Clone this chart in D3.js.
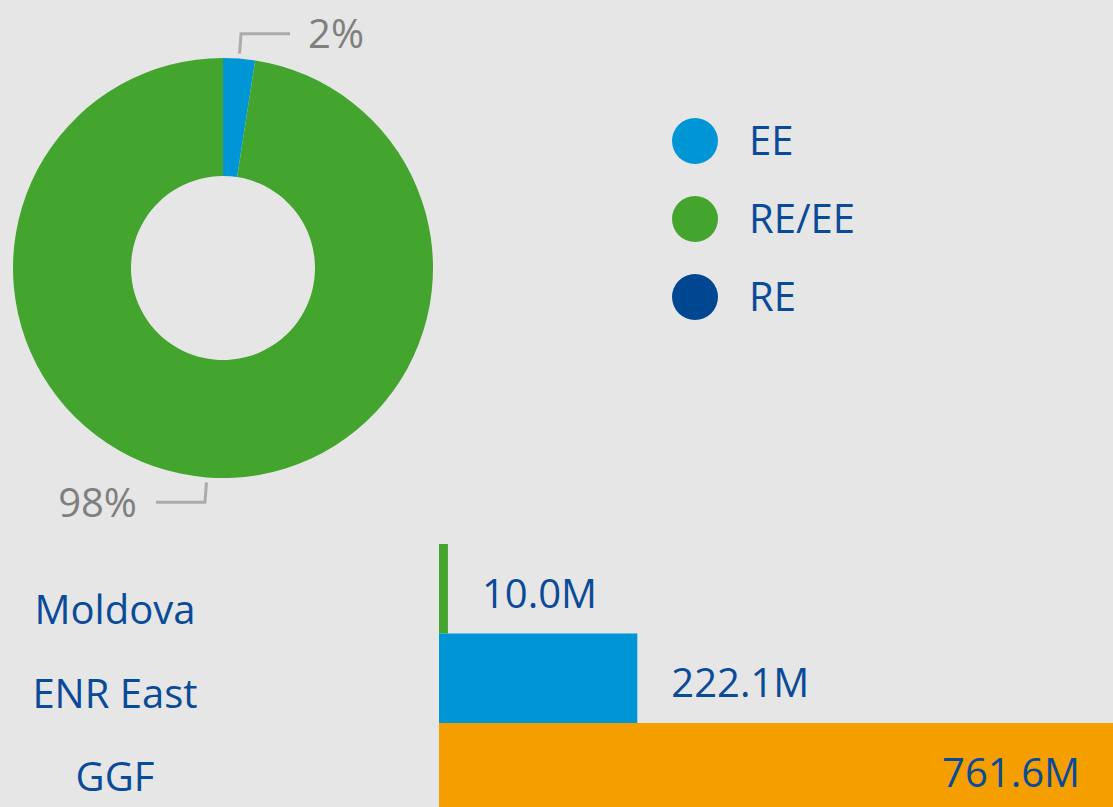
<!DOCTYPE html>
<html>
<head>
<meta charset="utf-8">
<script src="https://cdn.jsdelivr.net/npm/d3@7"></script>
<style>
  body { margin: 0; background: #e6e6e6; }
  svg { display: block; font-family: "Open Sans", sans-serif; }
</style>
</head>
<body>
<svg id="chart" width="1113" height="807"></svg>
<script>
// donut data (share of total)
let types = ["EE", "RE/EE", "RE"];
let shares = [0.0245, 0.9755, 0];
let typeColors = ["#0096d6", "#43a52e", "#004691"];

// bar data (millions)
let partners = ["Moldova", "ENR East", "GGF"];
let amounts = [10.0, 222.1, 761.6];
let barColors = ["#43a52e", "#0096d6", "#f49e00"];

let WIDTH = 1113;
let HEIGHT = 807;
let TEXT_BLUE = "#0a4b99";

let svg = d3.select("#chart");

// ---- donut ----
let CX = 223, CY = 268, R_OUT = 210, R_IN = 92;

let pie = d3.pie().sort(null).value(d => d.v);
let arcs = pie(types.map((t, i) => ({t: t, v: shares[i], c: typeColors[i]})));
let arc = d3.arc().innerRadius(R_IN).outerRadius(R_OUT);

let donut = svg.append("g").attr("transform", `translate(${CX},${CY})`);
donut.selectAll("path")
    .data(arcs.filter(d => d.data.v > 0))
    .join("path")
    .attr("d", arc)
    .attr("fill", d => d.data.c);

// leader lines + labels
let fmtPct = d3.format(".0%");
arcs.filter(d => d.data.v > 0).forEach(d => {
    let mid = (d.startAngle + d.endAngle) / 2;
    let p0 = [Math.sin(mid) * (R_OUT + 5), -Math.cos(mid) * (R_OUT + 5)];
    let p1 = [Math.sin(mid) * (R_OUT + 25), -Math.cos(mid) * (R_OUT + 25)];
    let right = Math.sin(mid) >= 0;
    let p2 = [p1[0] + (right ? 49 : -49), p1[1]];
    donut.append("polyline")
        .attr("points", [p0, p1, p2].map(p => p.join(",")).join(" "))
        .attr("fill", "none")
        .attr("stroke", "#ababab")
        .attr("stroke-width", 3);
    donut.append("text")
        .attr("x", p2[0] + (right ? 18 : -19))
        .attr("y", p2[1])
        .attr("dy", "0.36em")
        .attr("text-anchor", right ? "start" : "end")
        .attr("font-size", 40)
        .attr("fill", "#7f7f7f")
        .text(fmtPct(d.data.v));
});

// ---- legend ----
let legendY = d3.scalePoint().domain(types).range([141, 297]);
let legend = svg.append("g");
legend.selectAll("circle")
    .data(types)
    .join("circle")
    .attr("cx", 695)
    .attr("cy", d => legendY(d))
    .attr("r", 23)
    .attr("fill", (d, i) => typeColors[i]);
legend.selectAll("text")
    .data(types)
    .join("text")
    .attr("x", 749)
    .attr("y", d => legendY(d))
    .attr("dy", "0.36em")
    .attr("font-size", 40)
    .attr("fill", TEXT_BLUE)
    .text(d => d);

// ---- bars ----
let BAR_LEFT = 439;
let xScale = d3.scaleLinear().domain([0, 222.1]).range([BAR_LEFT, 637.3]);
let yScale = d3.scaleBand().domain(partners).range([544, 812.5]).padding(0);
let labelY = d3.scalePoint().domain(partners).range([624, 791]);

svg.append("g")
    .selectAll("rect")
    .data(partners)
    .join("rect")
    .attr("x", BAR_LEFT)
    .attr("y", d => yScale(d))
    .attr("width", (d, i) => xScale(amounts[i]) - BAR_LEFT)
    .attr("height", yScale.bandwidth())
    .attr("fill", (d, i) => barColors[i]);

// category labels
svg.append("g")
    .selectAll("text")
    .data(partners)
    .join("text")
    .attr("x", 115)
    .attr("y", d => labelY(d))
    .attr("text-anchor", "middle")
    .attr("font-size", 40)
    .attr("fill", TEXT_BLUE)
    .text(d => d);

// value labels
let fmtM = v => v.toFixed(1) + "M";
svg.append("g")
    .selectAll("text")
    .data(partners)
    .join("text")
    .each(function(d, i) {
        let end = xScale(amounts[i]);
        let inside = end > WIDTH - 200;
        d3.select(this)
            .attr("x", inside ? Math.min(end, WIDTH) - 33 : end + 34)
            .attr("text-anchor", inside ? "end" : "start");
    })
    .attr("y", d => yScale(d) + yScale.bandwidth() / 2 + 19)
    .attr("font-size", 40)
    .attr("fill", TEXT_BLUE)
    .text((d, i) => fmtM(amounts[i]));
</script>
</body>
</html>
